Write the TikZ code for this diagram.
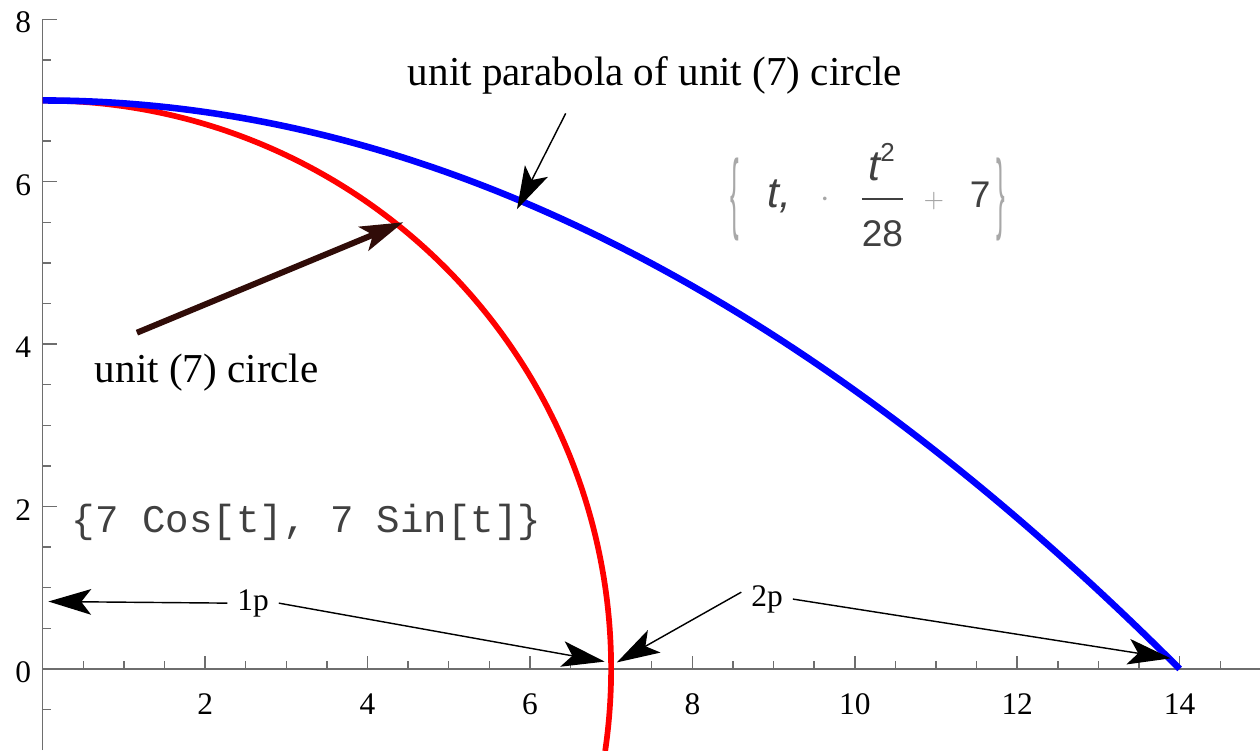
\documentclass[tikz,border=0pt]{standalone}
\usepackage{fontspec}
\usepackage{amsmath}
\usepackage{graphicx}
\setmainfont{Liberation Serif}
\newfontfamily\codefont{Liberation Mono}
\newfontfamily\formfont{Liberation Sans}
\usetikzlibrary{arrows.meta,positioning,calc}
\definecolor{AxisGray}{HTML}{6E6E6E}
\definecolor{ArrowBrown}{HTML}{300C08}
\definecolor{CodeGray}{HTML}{404040}
\definecolor{BraceGray}{HTML}{A8A8A8}

\begin{document}
\begin{tikzpicture}[
    x=1cm, y=1cm,
    axisline/.style={draw=AxisGray, line width=0.5pt},
    ticklabel/.style={font=\fontsize{11}{13}\selectfont, inner sep=1pt},
    curvelabel/.style={font=\fontsize{14.4}{17}\selectfont},
    ptlabel/.style={font=\fontsize{11}{13}\selectfont},
    arrow/.style={-{Stealth[length=15pt, width=9pt, inset=3.5pt]}, line width=0.5pt}
]
  \path[fill=white, use as bounding box] (-0.526,-0.999) rectangle (14.99,8.237);

  % -------------------------------------------------------------
  % EIXOS
  % -------------------------------------------------------------
  \draw[axisline] (0,-1) -- (0,8);
  \draw[axisline] (0,0) -- (15,0);
  \foreach \v in {0.5,1,...,15} \draw[axisline] (\v,0) -- ++(0,0.1);
  \foreach \v in {0,2,...,14} \draw[axisline] (\v,0) -- ++(0,0.16);
  \foreach \v in {-0.5,0,...,8} \draw[axisline] (0,\v) -- ++(0.1,0);
  \foreach \v in {0,2,...,8} \draw[axisline] (0,\v) -- ++(0.17,0);

  \foreach \v in {2,4,...,14} \node[ticklabel] (xl\v) at (\v,-0.43) {\v};
  \foreach \v in {0,2,...,8} \node[ticklabel] (yl\v) at (-0.24,{\v-0.04}) {\v};

  % -------------------------------------------------------------
  % CURVAS
  % -------------------------------------------------------------
  \draw[red, line width=2pt] (0,7) arc[start angle=90, end angle=-8.3, radius=7];
  \draw[blue, line width=2.3pt] (0,7) .. controls (4.667,7) and (9.333,4.667) .. (14,0);

  % Rotulos das curvas
  \node[curvelabel] (parabLabel) at (7.54,7.31) {unit parabola of unit (7) circle};
  \coordinate (parabFrom) at (6.44,6.84);
  \coordinate (parabTip) at (5.84,5.66);
  \draw[arrow] (parabFrom) -- (parabTip);

  \node[curvelabel] (circLabel) at (2.02,3.65) {unit (7) circle};
  \coordinate (circFrom) at (1.16,4.14);
  \coordinate (circTip) at (4.44,5.50);
  \draw[arrow, color=ArrowBrown, line width=2.1pt] (circFrom) -- (circTip);

  % Formulas
  \node[font=\codefont\fontsize{13.7}{16}\selectfont, text=CodeGray] (circCode) at (3.25,1.80) {\{7 Cos[t], 7 Sin[t]\}};
  \node[font=\formfont\fontsize{13}{15}\selectfont, text=CodeGray, anchor=base] (parabCode) at (10.16,5.68) {
    $\vcenter{\hbox{\scalebox{0.7}[2.4]{\color{BraceGray}\{}}}\hspace{10pt}\text{\fontsize{15}{17}\selectfont\itshape t,}\hspace{10pt}{\color{gray!70}\cdot}\hspace{10pt}\dfrac{\text{\fontsize{15}{17}\selectfont\itshape t}^{\text{2}}\rule[-5pt]{0pt}{0pt}}{\rule{0pt}{15pt}\text{28}}\hspace{6pt}{\color{gray!70}\scriptstyle +}\hspace{9pt}\text{7}\hspace{2pt}\vcenter{\hbox{\scalebox{0.7}[2.4]{\color{BraceGray}\}}}}$
  };

  % -------------------------------------------------------------
  % SETAS 1p / 2p
  % -------------------------------------------------------------
  \node[ptlabel] (oneP) at (2.59,0.81) {1p};
  \coordinate (yAxisPt) at (0.07,0.83);
  \coordinate (circAxisL) at (6.92,0.09);
  \draw[arrow] (oneP.west) -- (yAxisPt);
  \draw[arrow] (oneP.east) -- (circAxisL);

  \node[ptlabel] (twoP) at (8.92,0.86) {2p};
  \coordinate (circAxisR) at (7.07,0.08);
  \coordinate (parabAxis) at (13.89,0.13);
  \draw[arrow] (twoP.165) -- (circAxisR);
  \draw[arrow] (twoP.east) -- (parabAxis);

\end{tikzpicture}
\end{document}
